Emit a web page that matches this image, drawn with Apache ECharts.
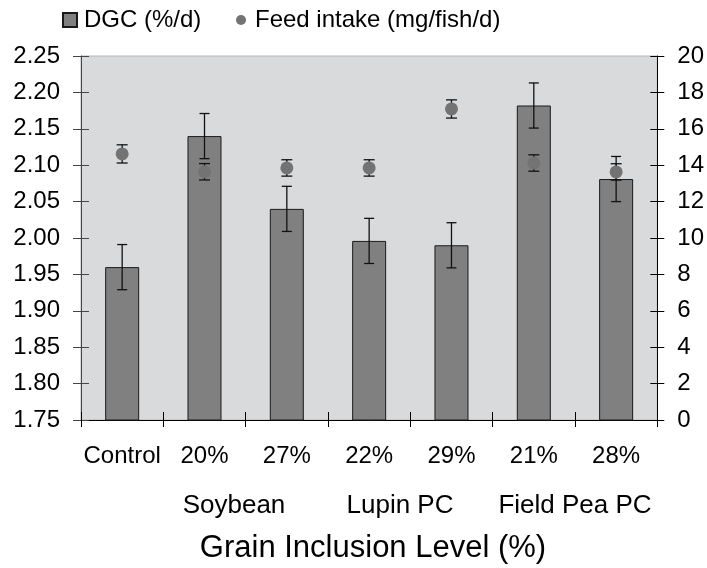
<!DOCTYPE html>
<html>
<head>
<meta charset="utf-8">
<script src="https://cdn.jsdelivr.net/npm/echarts@6/dist/echarts.min.js"></script>
<style>
  html, body { margin: 0; padding: 0; background: #fff; }
  #chart { width: 707px; height: 568px; }
</style>
</head>
<body>
<div id="chart"></div>
<script>
// Treatment groups along the x axis
const categories = ['Control', '20%', '27%', '22%', '29%', '21%', '28%'];
// Daily growth coefficient (%/d) with standard errors
const dgc = [1.96, 2.14, 2.04, 1.996, 1.99, 2.182, 2.081];
const dgcErr = [0.031, 0.031, 0.031, 0.031, 0.031, 0.031, 0.031];
// Feed intake (mg/fish/d) with standard errors
const feed = [14.62, 13.64, 13.85, 13.85, 17.09, 14.12, 13.63];
const feedErr = [0.5, 0.45, 0.45, 0.45, 0.5, 0.45, 0.45];
// Grain source labels under the inclusion levels
const groupLabels = ['Soybean', 'Lupin PC', 'Field Pea PC'];
const axisTitle = 'Grain Inclusion Level (%)';

const FONT = "'Liberation Sans', Arial, sans-serif";

function errorBars(values, errs, capHalf) {
  return {
    data: values.map((v, i) => [i, v, errs[i]]),
    renderItem: function (params, api) {
      const i = api.value(0), v = api.value(1), e = api.value(2);
      const top = api.coord([i, v + e]);
      const bot = api.coord([i, v - e]);
      const style = { stroke: '#111', lineWidth: 1.3 };
      return {
        type: 'group',
        children: [
          { type: 'line', shape: { x1: top[0], y1: top[1], x2: bot[0], y2: bot[1] }, style: style },
          { type: 'line', shape: { x1: top[0] - capHalf, y1: top[1], x2: top[0] + capHalf, y2: top[1] }, style: style },
          { type: 'line', shape: { x1: bot[0] - capHalf, y1: bot[1], x2: bot[0] + capHalf, y2: bot[1] }, style: style }
        ]
      };
    }
  };
}

const chart = echarts.init(document.getElementById('chart'));
const dgcBars = errorBars(dgc, dgcErr, 5);
const feedBars = errorBars(feed, feedErr, 5.5);

chart.setOption({
  animation: false,
  textStyle: { fontFamily: FONT },
  grid: {
    left: 81, right: 48, top: 56, bottom: 148,
    show: true, backgroundColor: '#d9dadc', borderColor: '#b4b4b4', borderWidth: 1
  },
  legend: [
    {
      data: [{ name: 'DGC (%/d)', icon: 'rect' }],
      left: 62, top: 8, padding: 0, itemWidth: 14, itemHeight: 14,
      textStyle: { fontSize: 24, color: '#000', fontFamily: FONT, padding: [0, 0, 0, 2] }
    },
    {
      data: [{ name: 'Feed intake (mg/fish/d)', icon: 'circle' }],
      left: 236, top: 8, padding: 0, itemWidth: 10, itemHeight: 10,
      textStyle: { fontSize: 24, color: '#000', fontFamily: FONT, padding: [0, 0, 0, 4] }
    }
  ],
  xAxis: [
    {
      type: 'category', data: categories, position: 'bottom',
      axisLine: { lineStyle: { color: '#000', width: 1 } },
      axisTick: { show: true, length: 7, inside: false, lineStyle: { color: '#000' } },
      axisLabel: { color: '#000', fontSize: 24, margin: 24, fontFamily: FONT, interval: 0 }
    },
    {
      type: 'category', data: categories, position: 'bottom',
      axisLine: { show: false },
      axisTick: { show: true, length: 8, inside: true, lineStyle: { color: '#000' } },
      axisLabel: { show: false }
    }
  ],
  yAxis: [
    {
      type: 'value', min: 1.75, max: 2.25, interval: 0.05, position: 'left',
      axisLine: { show: true, lineStyle: { color: '#444', width: 1 } },
      axisTick: { show: true, length: 8, lineStyle: { color: '#444' } },
      splitLine: { show: false },
      axisLabel: { color: '#000', fontSize: 24, margin: 21, fontFamily: FONT,
        formatter: v => v.toFixed(2) }
    },
    {
      type: 'value', min: 0, max: 20, interval: 2, position: 'right',
      axisLine: { show: true, lineStyle: { color: '#000', width: 1 } },
      axisTick: { show: true, length: 7, lineStyle: { color: '#000' } },
      splitLine: { show: false },
      axisLabel: { color: '#000', fontSize: 24, margin: 20, fontFamily: FONT }
    },
    {
      type: 'value', min: 1.75, max: 2.25, interval: 0.05, position: 'left',
      axisLine: { show: false },
      axisTick: { show: true, length: 8, inside: true, lineStyle: { color: '#444' } },
      splitLine: { show: false }, axisLabel: { show: false }
    },
    {
      type: 'value', min: 0, max: 20, interval: 2, position: 'right',
      axisLine: { show: false },
      axisTick: { show: true, length: 7, inside: true, lineStyle: { color: '#000' } },
      splitLine: { show: false }, axisLabel: { show: false }
    }
  ],
  series: [
    {
      name: 'DGC (%/d)', type: 'bar', data: dgc, barWidth: 34,
      xAxisIndex: 0, yAxisIndex: 0,
      itemStyle: { color: '#808080', borderColor: '#1a1a1a', borderWidth: 1 }
    },
    {
      name: 'DGC error', type: 'custom', xAxisIndex: 0, yAxisIndex: 0,
      data: dgcBars.data, renderItem: dgcBars.renderItem, z: 3
    },
    {
      name: 'Feed error', type: 'custom', xAxisIndex: 0, yAxisIndex: 1,
      data: feedBars.data, renderItem: feedBars.renderItem, z: 3
    },
    {
      name: 'Feed intake (mg/fish/d)', type: 'scatter', data: feed,
      xAxisIndex: 0, yAxisIndex: 1, symbol: 'circle', symbolSize: 13,
      itemStyle: { color: '#737373', opacity: 1 }, z: 4
    }
  ],
  graphic: [
    { type: 'text', x: 234, y: 506, style: { text: groupLabels[0], font: '26px ' + FONT, fill: '#000', align: 'center', verticalAlign: 'middle' } },
    { type: 'text', x: 400, y: 506, style: { text: groupLabels[1], font: '26px ' + FONT, fill: '#000', align: 'center', verticalAlign: 'middle' } },
    { type: 'text', x: 575, y: 506, style: { text: groupLabels[2], font: '26px ' + FONT, fill: '#000', align: 'center', verticalAlign: 'middle' } },
    { type: 'text', x: 373, y: 548, style: { text: axisTitle, font: '31px ' + FONT, fill: '#000', align: 'center', verticalAlign: 'middle' } }
  ]
});
</script>
</body>
</html>
